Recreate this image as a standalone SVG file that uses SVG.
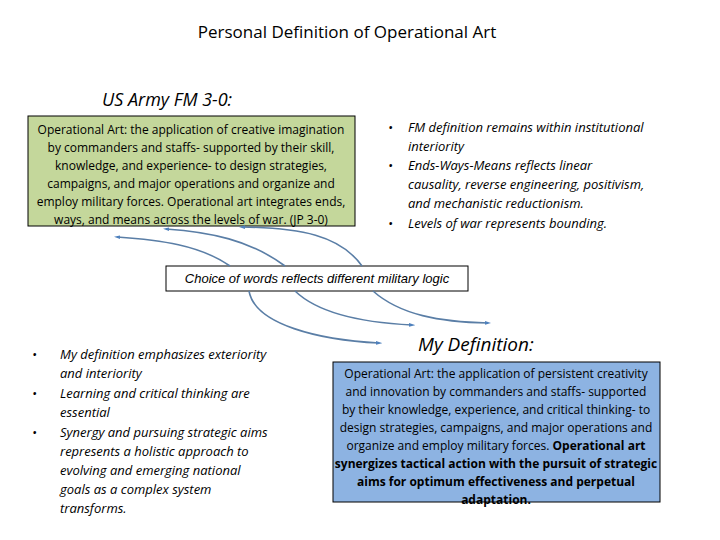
<svg xmlns="http://www.w3.org/2000/svg" width="720" height="540" viewBox="0 0 720 540">
<defs><marker id="a" viewBox="0 0 10 10" refX="5" refY="5" markerWidth="4" markerHeight="4" orient="auto"><path d="M0,2L10,5L0,8z" fill="#4f81bd"/></marker></defs>
<style>
text{font-family:"Open Sans","Liberation Sans",sans-serif;fill:#000}
.b{font-size:12px;text-anchor:middle}
.i{font-style:italic;font-size:13px}
.c{fill:none;stroke:#5a7ea6;stroke-width:1.6;marker-end:url(#a)}
</style>
<rect width="720" height="540" fill="#fff"/>
<text x="347" y="38" font-size="17" text-anchor="middle">Personal Definition of Operational Art</text>
<text x="102" y="106" font-size="18" font-style="italic">US Army FM 3-0:</text>
<g id="fm">
<rect x="28" y="116" width="327" height="110" fill="#c4d79b" stroke="#000"/>
<text class="b"><tspan x="191" y="134">Operational Art: the application of creative imagination</tspan><tspan x="191" y="152">by commanders and staffs- supported by their skill,</tspan><tspan x="191" y="170">knowledge, and experience- to design strategies,</tspan><tspan x="191" y="188">campaigns, and major operations and organize and</tspan><tspan x="191" y="206">employ military forces. Operational art integrates ends,</tspan><tspan x="191" y="224">ways, and means across the levels of war. (JP 3-0)</tspan></text>
</g>
<g id="bullets1" class="i">
<text class="i"><tspan x="388" y="132">•</tspan><tspan x="408" y="132">FM definition remains within institutional</tspan><tspan x="408" y="151">interiority</tspan><tspan x="388" y="170">•</tspan><tspan x="408" y="170">Ends-Ways-Means reflects linear</tspan><tspan x="408" y="189">causality, reverse engineering, positivism,</tspan><tspan x="408" y="208">and mechanistic reductionism.</tspan><tspan x="388" y="228">•</tspan><tspan x="408" y="228">Levels of war represents bounding.</tspan></text>
</g>
<g id="choice">
<rect x="166" y="266" width="302" height="25" fill="#fff" stroke="#000"/>
<text x="317" y="283" font-size="13" font-style="italic" text-anchor="middle" style="font-family:'Liberation Sans',Arial,sans-serif">Choice of words reflects different military logic</text>
</g>
<g id="connectors">
<path class="c" d="M230,266 C200,245 160,240 117,237"/>
<path class="c" d="M285,266 C250,240 210,232 166,229"/>
<path class="c" d="M362,266 C340,235 300,228 242,227"/>
<path class="c" d="M249,291 C255,325 320,340 379,343"/>
<path class="c" d="M295,291 C320,315 370,323 412,325"/>
<path class="c" d="M373,291 C400,315 440,322 488,323"/>
</g>
<text x="418" y="351" font-size="19" font-style="italic">My Definition:</text>
<g id="mydef">
<rect x="333" y="362" width="327" height="140" fill="#8db3e2" stroke="#000"/>
<text class="b"><tspan x="496" y="378">Operational Art: the application of persistent creativity</tspan><tspan x="496" y="396">and innovation by commanders and staffs- supported</tspan><tspan x="496" y="414">by their knowledge, experience, and critical thinking- to</tspan><tspan x="496" y="432">design strategies, campaigns, and major operations and</tspan><tspan x="496" y="450">organize and employ military forces. <tspan font-weight="bold">Operational art</tspan></tspan><tspan x="496" y="468" font-weight="bold">synergizes tactical action with the pursuit of strategic</tspan><tspan x="496" y="486" font-weight="bold">aims for optimum effectiveness and perpetual</tspan><tspan x="496" y="504" font-weight="bold">adaptation.</tspan></text>
</g>
<g id="bullets2">
<text class="i"><tspan x="32" y="359">•</tspan><tspan x="60" y="359">My definition emphasizes exteriority</tspan><tspan x="60" y="378">and interiority</tspan><tspan x="32" y="398">•</tspan><tspan x="60" y="398">Learning and critical thinking are</tspan><tspan x="60" y="417">essential</tspan><tspan x="32" y="437">•</tspan><tspan x="60" y="437">Synergy and pursuing strategic aims</tspan><tspan x="60" y="456">represents a holistic approach to</tspan><tspan x="60" y="475">evolving and emerging national</tspan><tspan x="60" y="494">goals as a complex system</tspan><tspan x="60" y="513">transforms.</tspan></text>
</g>
</svg>
